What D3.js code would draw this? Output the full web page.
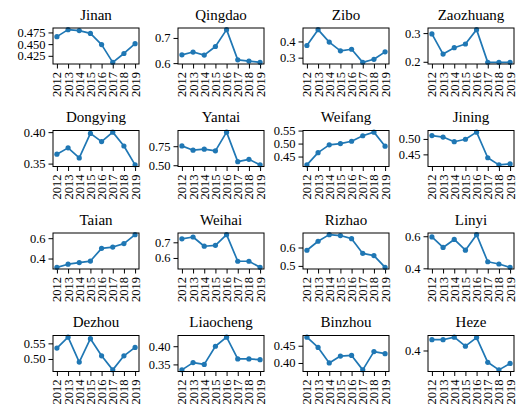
<!DOCTYPE html>
<html>
<head>
<meta charset="utf-8">
<script src="https://cdn.jsdelivr.net/npm/d3@7"></script>
<style>
  html, body { margin: 0; padding: 0; background: #fff; }
  svg text { font-family: "Liberation Serif", "Times New Roman", Times, serif; }
</style>
</head>
<body>
<svg id="chart" width="516" height="407"></svg>
<script>
// Yearly index for 16 cities of Shandong, one small panel per city
const years = [2012, 2013, 2014, 2015, 2016, 2017, 2018, 2019];
const cities = ["Jinan", "Qingdao", "Zibo", "Zaozhuang",
                "Dongying", "Yantai", "Weifang", "Jining",
                "Taian", "Weihai", "Rizhao", "Linyi",
                "Dezhou", "Liaocheng", "Binzhou", "Heze"];

const jinan     = [0.466, 0.481, 0.479, 0.473, 0.449, 0.411, 0.430, 0.451];
const qingdao   = [0.633, 0.644, 0.632, 0.666, 0.733, 0.613, 0.608, 0.603];
const zibo      = [0.375, 0.473, 0.396, 0.342, 0.352, 0.271, 0.290, 0.336];
const zaozhuang = [0.297, 0.227, 0.249, 0.262, 0.312, 0.198, 0.198, 0.198];
const dongying  = [0.365, 0.375, 0.359, 0.398, 0.385, 0.400, 0.378, 0.348];
const yantai    = [0.754, 0.698, 0.711, 0.689, 0.935, 0.547, 0.578, 0.505];
const weifang   = [0.418, 0.465, 0.495, 0.500, 0.509, 0.530, 0.544, 0.490];
const jining    = [0.511, 0.506, 0.491, 0.499, 0.522, 0.439, 0.416, 0.419];
const taian     = [0.313, 0.344, 0.360, 0.375, 0.500, 0.513, 0.547, 0.635];
const weihai    = [0.722, 0.734, 0.675, 0.681, 0.749, 0.579, 0.579, 0.540];
const rizhao    = [0.585, 0.634, 0.670, 0.665, 0.648, 0.568, 0.556, 0.492];
const linyi     = [0.596, 0.530, 0.580, 0.513, 0.610, 0.441, 0.427, 0.406];
const dezhou    = [0.535, 0.570, 0.490, 0.565, 0.510, 0.465, 0.510, 0.537];
const liaocheng = [0.335, 0.355, 0.350, 0.400, 0.425, 0.365, 0.365, 0.363];
const binzhou   = [0.475, 0.445, 0.400, 0.420, 0.422, 0.380, 0.433, 0.427];
const heze      = [0.450, 0.450, 0.462, 0.420, 0.460, 0.345, 0.310, 0.340];

const seriesValues = [jinan, qingdao, zibo, zaozhuang, dongying, yantai, weifang, jining,
                      taian, weihai, rizhao, linyi, dezhou, liaocheng, binzhou, heze];

// y tick labels for each panel
const yTickLabels = [
  ["0.425", "0.450", "0.475"],
  ["0.6", "0.7"],
  ["0.3", "0.4"],
  ["0.2", "0.3"],
  ["0.35", "0.40"],
  ["0.50", "0.75"],
  ["0.45", "0.50", "0.55"],
  ["0.45", "0.50"],
  ["0.4", "0.6"],
  ["0.6", "0.7"],
  ["0.5", "0.6"],
  ["0.4", "0.6"],
  ["0.50", "0.55"],
  ["0.35", "0.40"],
  ["0.40", "0.45"],
  ["0.4"]
];

// layout
const colLeft = [53, 178, 303, 428];
const rowTop = [28, 130.5, 233, 335.5];
const panelW = 86, panelH = 36;
const lineColor = "#1f77b4";

const svg = d3.select("#chart");

cities.forEach((city, i) => {
  const vals = seriesValues[i];
  const x0 = colLeft[i % 4], y0 = rowTop[Math.floor(i / 4)];
  const g = svg.append("g").attr("transform", `translate(${x0},${y0})`);

  const x = d3.scaleLinear()
    .domain([years[0] - 0.35, years[years.length - 1] + 0.35])
    .range([0, panelW]);
  const [mn, mx] = d3.extent(vals);
  const pad = (mx - mn) * 0.05;
  const y = d3.scaleLinear().domain([mn - pad, mx + pad]).range([panelH, 0]);

  // y axis
  const yAxis = d3.axisLeft(y)
    .tickValues(yTickLabels[i].map(Number))
    .tickFormat((d, k) => yTickLabels[i][k])
    .tickSize(4.5).tickPadding(3);
  const ya = g.append("g").call(yAxis);
  ya.attr("font-family", null);
  ya.select(".domain").remove();
  ya.selectAll("line").attr("stroke", "#000").attr("stroke-width", 1);
  ya.selectAll("text").attr("font-size", 12.5).attr("fill", "#000");

  // x axis with rotated year labels
  const xAxis = d3.axisBottom(x).tickValues(years).tickFormat(d3.format("d"))
    .tickSize(4.5).tickPadding(3);
  const xa = g.append("g").attr("transform", `translate(0,${panelH})`).call(xAxis);
  xa.attr("font-family", null);
  xa.select(".domain").remove();
  xa.selectAll("line").attr("stroke", "#000").attr("stroke-width", 1);
  xa.selectAll("text")
    .attr("font-size", 12.5).attr("fill", "#000")
    .attr("text-anchor", "end")
    .attr("dy", null)
    .attr("dominant-baseline", "central")
    .attr("transform", "translate(0,8) rotate(-90)")
    .attr("y", 0).attr("x", 0);

  // line and markers
  const line = d3.line().x((d, k) => x(years[k])).y(d => y(d));
  g.append("path").datum(vals)
    .attr("d", line).attr("fill", "none")
    .attr("stroke", lineColor).attr("stroke-width", 1.7)
    .attr("stroke-linejoin", "round");
  g.selectAll("circle.pt").data(vals).join("circle")
    .attr("class", "pt")
    .attr("cx", (d, k) => x(years[k])).attr("cy", d => y(d))
    .attr("r", 2.6).attr("fill", lineColor);

  // frame
  g.append("rect").attr("x", 0).attr("y", 0)
    .attr("width", panelW).attr("height", panelH)
    .attr("fill", "none").attr("stroke", "#000").attr("stroke-width", 1);

  // title
  g.append("text").attr("x", panelW / 2).attr("y", -8.5)
    .attr("text-anchor", "middle").attr("font-size", 15).attr("fill", "#000")
    .text(city);
});
</script>
</body>
</html>
